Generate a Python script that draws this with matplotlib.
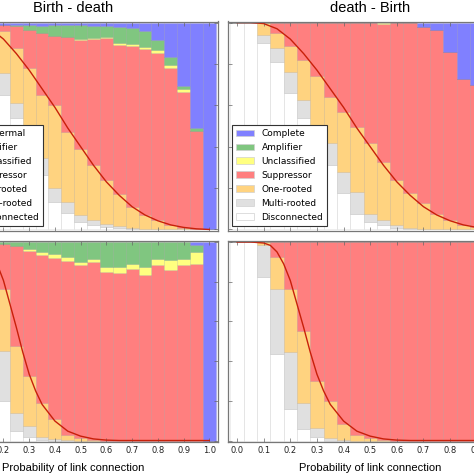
import matplotlib.pyplot as plt
import numpy as np
from matplotlib.patches import Patch

p = np.round(np.arange(0, 1.0001, 0.05), 2)

# fractions of graph classes per link probability (bottom -> top of stack)
# Birth - death, top row
bd1_disc = [1, 1, .96, .84, .652, .539, .40, .265, .132, .079, .035, .02, .01, .005, .003, 0, 0, 0, 0, 0, 0]
bd1_multi = [0, 0, .025, .08, .104, .072, .10, .08, .068, .056, .035, .025, .015, .01, .005, .004, .002, 0, 0, 0, 0]
bd1_one = [0, 0, .015, .07, .202, .266, .28, .307, .40, .335, .32, .265, .215, .155, .102, .066, .043, .02, .008, .003, 0]
bd1_supp = [0, 0, 0, .01, .032, .108, .185, .298, .335, .46, .525, .61, .685, .72, .775, .80, .807, .762, .658, .474, 0]
bd1_uncl = [0, 0, 0, 0, 0, 0, 0, 0, 0, 0, .005, .005, .005, .01, .01, .01, .016, .013, .011, 0, 0]
bd1_ampl = [0, 0, 0, 0, 0, .005, .025, .035, .055, .06, .07, .06, .055, .08, .08, .08, .048, .04, .017, .012, 0]
bd1_comp = [0, 0, 0, 0, .01, .01, .01, .015, .01, .01, .01, .015, .015, .02, .025, .04, .084, .165, .306, .511, 1]

# death - Birth, top row
db1_disc = [1, 1, .90, .81, .66, .537, .40, .31, .174, .077, .037, .021, .008, .003, 0, 0, 0, 0, 0, 0, 0]
db1_multi = [0, 0, .04, .065, .10, .089, .10, .106, .105, .105, .04, .024, .012, .005, .003, 0, 0, 0, 0, 0, 0]
db1_one = [0, 0, .06, .075, .125, .194, .24, .226, .29, .315, .339, .282, .219, .166, .123, .077, .045, .021, .01, .003, 0]
db1_supp = [0, 0, 0, .05, .115, .18, .26, .358, .431, .503, .584, .668, .761, .826, .854, .888, .815, .704, .69, .547, 0]
db1_uncl = [0, 0, 0, 0, 0, 0, 0, 0, 0, 0, 0, .005, 0, 0, 0, 0, 0, 0, 0, 0, 0]
db1_ampl = [0] * 21
db1_comp = [0, 0, 0, 0, 0, 0, 0, 0, 0, 0, 0, 0, 0, 0, .02, .035, .14, .275, .30, .45, 1]

# Birth - death, bottom row
bd2_disc = [1, .95, .75, .45, .199, .047, .019, .004, 0, 0, 0, 0, 0, 0, 0, 0, 0, 0, 0, 0, 0]
bd2_multi = [0, .04, .15, .25, .253, .093, .054, .013, .008, .003, 0, 0, 0, 0, 0, 0, 0, 0, 0, 0, 0]
bd2_one = [0, .01, .08, .22, .312, .337, .252, .173, .098, .027, .012, .003, 0, 0, 0, 0, 0, 0, 0, 0, 0]
bd2_supp = [0, 0, .02, .075, .226, .501, .629, .743, .815, .874, .87, .896, .848, .843, .865, .836, .882, .857, .882, .89, 0]
bd2_uncl = [0, 0, 0, 0, 0, 0, .012, .016, .02, .02, .017, .017, .026, .031, .025, .038, .034, .05, .034, .059, 0]
bd2_ampl = [0, 0, 0, .005, .01, .022, .034, .051, .059, .076, .101, .084, .126, .126, .11, .126, .084, .093, .084, .034, 0]
bd2_comp = [0, 0, 0, 0, 0, 0, 0, 0, 0, 0, 0, 0, 0, 0, 0, 0, 0, 0, 0, .017, 1]

# death - Birth, bottom row
db2_disc = [1, 1, .826, .435, .157, .056, .017, 0, 0, 0, 0, 0, 0, 0, 0, 0, 0, 0, 0, 0, 0]
db2_multi = [0, 0, .157, .329, .287, .135, .047, .013, .003, 0, 0, 0, 0, 0, 0, 0, 0, 0, 0, 0, 0]
db2_one = [0, 0, .017, .16, .32, .362, .236, .186, .078, .03, .013, .004, 0, 0, 0, 0, 0, 0, 0, 0, 0]
db2_supp = [0, 0, 0, .076, .236, .447, .70, .801, .919, .97, .987, .996, 1, 1, 1, 1, 1, 1, 1, 1, 0]
db2_uncl = [0] * 21
db2_ampl = [0] * 21
db2_comp = [0] * 20 + [1]

# red curves (one per row)
curve1_p = [0, .05, .10, .15, .20, .25, .30, .35, .40, .45, .50, .55, .60, .65, .70, .75, .80, .85, .90, .95, 1.0]
curve1 = [1.0, 1.0, .995, .97, .92, .85, .77, .68, .59, .49, .40, .31, .23, .165, .11, .07, .042, .022, .01, .003, 0]
curve2_p = [0, .05, .10, .125, .15, .175, .20, .225, .25, .275, .30, .325, .35, .40, .45, .50, .55, .60, .65, .70, 1.0]
curve2 = [1.0, 1.0, .995, .983, .95, .89, .806, .688, .57, .445, .334, .25, .182, .098, .047, .022, .008, .002, 0, 0, 0]

colors = ["#ffffff", "#e0e0e0", "#ffd380", "#ff7f7f", "#ffff80", "#80c680", "#8080ff"]
names_left = ["Disconnected", "Multi-rooted", "One-rooted", "Suppressor", "Unclassified", "Amplifier", "Isothermal"]
names_right = ["Disconnected", "Multi-rooted", "One-rooted", "Suppressor", "Unclassified", "Amplifier", "Complete"]

fig = plt.figure(figsize=(4.74, 4.74), dpi=100)

W = 474.0
pos = {
    "tl": [-57 / W, 1 - 230.5 / W, 275.3 / W, 209 / W],
    "tr": [227.7 / W, 1 - 230.5 / W, 285 / W, 209 / W],
    "bl": [-57 / W, 1 - 441.5 / W, 275.3 / W, 200.5 / W],
    "br": [227.7 / W, 1 - 441.5 / W, 285 / W, 200.5 / W],
}

panels = [
    ("tl", [bd1_disc, bd1_multi, bd1_one, bd1_supp, bd1_uncl, bd1_ampl, bd1_comp], curve1_p, curve1, names_left),
    ("tr", [db1_disc, db1_multi, db1_one, db1_supp, db1_uncl, db1_ampl, db1_comp], curve1_p, curve1, names_right),
    ("bl", [bd2_disc, bd2_multi, bd2_one, bd2_supp, bd2_uncl, bd2_ampl, bd2_comp], curve2_p, curve2, None),
    ("br", [db2_disc, db2_multi, db2_one, db2_supp, db2_uncl, db2_ampl, db2_comp], curve2_p, curve2, None),
]

for key, series, cp, cv, names in panels:
    ax = fig.add_axes(pos[key])
    bottom = np.zeros(len(p))
    for vals, c in zip(series, colors):
        vals = np.array(vals, dtype=float)
        ax.bar(p, vals, width=0.05, bottom=bottom, color=c,
               edgecolor=(0, 0, 0, 0.08), linewidth=0.6)
        bottom += vals
    ax.plot(cp, cv, color="#c8200a", lw=1.0)

    ax.set_xlim(-0.035, 1.035)
    ax.set_ylim(-0.005, 1.005)
    ax.set_xticks(np.arange(0, 1.01, 0.1))
    ax.set_yticks(np.arange(0, 1.01, 0.2))
    ax.tick_params(direction="in", top=True, right=True, length=3, width=0.5,
                   color="#666666", labelsize=6, labelcolor="#222222", pad=3)
    for s in ax.spines.values():
        s.set_color("#777777")
        s.set_linewidth(0.9)

    # y labels sit outside the visible crop on the left, none on the right
    ax.tick_params(labelleft=False)

    left = key.endswith("l")
    cx = (73.5 + 57) / 275.3 if left else 0.5
    if key.startswith("t"):
        ax.tick_params(labelbottom=False)
        ax.set_title("Birth - death" if left else "death - Birth", fontsize=10.5,
                     family="Liberation Sans", pad=7, x=cx)
    else:
        ax.set_xlabel("Probability of link connection", fontsize=8, family="Liberation Sans")
        ax.xaxis.set_label_coords(cx, -0.105)

    if names is not None:
        handles = [Patch(facecolor=c, edgecolor="#d0d0d0", linewidth=0.5, label=n)
                   for c, n in zip(colors, names)][::-1]
        leg = ax.legend(handles=handles, loc="lower left", fontsize=6.5, labelspacing=0.55,
                        handlelength=2.0, handleheight=0.8, borderpad=0.45,
                        handletextpad=0.8, borderaxespad=0.5, fancybox=False, framealpha=1)
        leg.get_frame().set_edgecolor("#333333")
        leg.get_frame().set_linewidth(0.8)

fig.savefig("out.png", dpi=100)
